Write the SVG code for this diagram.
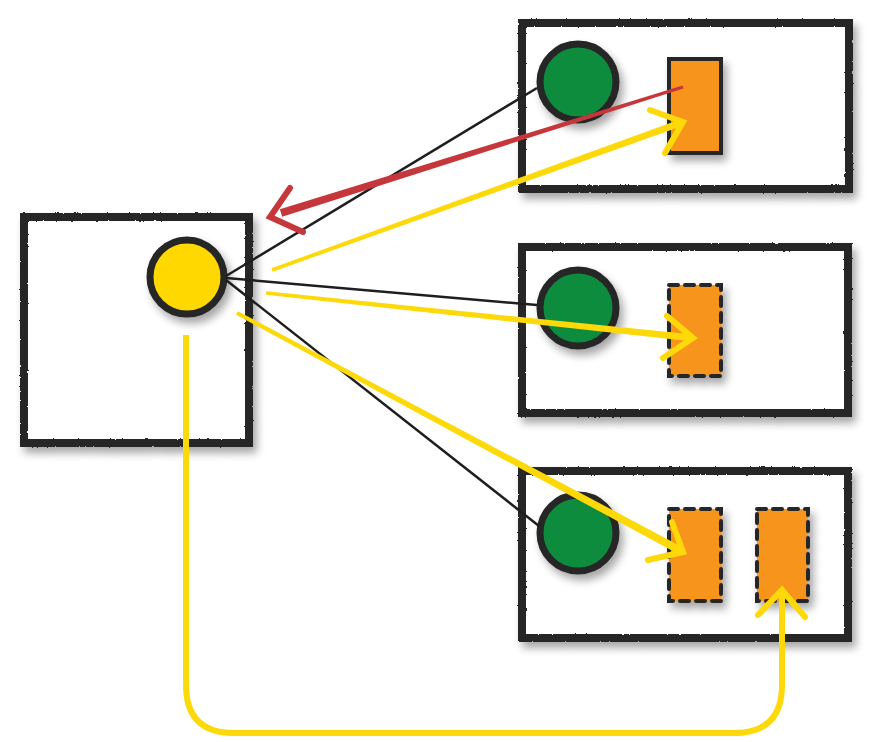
<svg xmlns="http://www.w3.org/2000/svg" width="889" height="742" viewBox="0 0 889 742">
<defs>
<filter id="rough" x="-5%" y="-5%" width="110%" height="110%">
<feTurbulence type="fractalNoise" baseFrequency="0.35" numOctaves="2" seed="3" result="n"/>
<feDisplacementMap in="SourceGraphic" in2="n" scale="2.2" xChannelSelector="R" yChannelSelector="G"/>
</filter>
<filter id="shadow" x="-20%" y="-20%" width="150%" height="150%">
<feGaussianBlur in="SourceAlpha" stdDeviation="4"/>
<feOffset dx="4" dy="6" result="o"/>
<feComponentTransfer><feFuncA type="linear" slope="0.35"/></feComponentTransfer>
<feMerge><feMergeNode/><feMergeNode in="SourceGraphic"/></feMerge>
</filter>
<style>
.box{fill:#ffffff;stroke:#262626;stroke-width:8;filter:url(#rough);}
.sun{fill:#FFD800;stroke:#262626;stroke-width:7;}
.planet{fill:#0B8C3C;stroke:#262626;stroke-width:7;}
.item{fill:#F7941D;stroke:#262626;stroke-width:4;}
.dashed{fill:#F7941D;stroke:#262626;stroke-width:4;stroke-dasharray:9 7;stroke-linecap:round;}
.thin{stroke:#1e1e1e;stroke-width:2.5;fill:none;}
.ylw{fill:#FDD90A;}
.ychev{fill:none;stroke:#FDD90A;stroke-width:6;stroke-linecap:round;stroke-linejoin:miter;}
.red{fill:#C6373C;}
.rchev{fill:none;stroke:#C6373C;stroke-width:6;stroke-linecap:round;stroke-linejoin:miter;}
.yline{fill:none;stroke:#FDD90A;stroke-width:6;}
</style>
</defs>
<rect width="889" height="742" fill="#ffffff"/>

<g id="source" filter="url(#shadow)">
<rect class="box" x="24" y="217" width="225" height="226"/>
</g>
<g id="target1" filter="url(#shadow)">
<rect class="box" x="522" y="23" width="327" height="166"/>
</g>
<g id="target2" filter="url(#shadow)">
<rect class="box" x="522" y="247" width="326" height="166"/>
</g>
<g id="target3" filter="url(#shadow)">
<rect class="box" x="522" y="471" width="326" height="167"/>
</g>

<g id="sun" filter="url(#shadow)">
<circle class="sun" cx="187" cy="277" r="37"/>
</g>
<g id="planet1" filter="url(#shadow)">
<circle class="planet" cx="578" cy="82" r="38"/>
</g>
<g id="planet2" filter="url(#shadow)">
<circle class="planet" cx="578" cy="308" r="38"/>
</g>
<g id="planet3" filter="url(#shadow)">
<circle class="planet" cx="578" cy="533" r="38"/>
</g>
<g id="item1" filter="url(#shadow)">
<rect class="item" x="669" y="59" width="52" height="94"/>
</g>
<g id="item2" filter="url(#shadow)">
<rect class="dashed" x="669" y="285" width="52" height="91"/>
</g>
<g id="item3a" filter="url(#shadow)">
<rect class="dashed" x="669" y="509" width="52" height="92"/>
</g>
<g id="item3b" filter="url(#shadow)">
<rect class="dashed" x="757" y="509" width="51" height="92"/>
</g>

<g id="connectors">
<line class="thin" x1="226" y1="276" x2="537" y2="88"/>
<line class="thin" x1="226" y1="278" x2="537" y2="305"/>
<line class="thin" x1="226" y1="280" x2="539" y2="526"/>

<polygon class="red" points="279.8,209.2 682.55,85.57 683.45,88.43 282.2,216.8"/>
<polyline class="rchev" points="290,188 270,217 303,232"/>

<polygon class="ylw" points="271.41,268.35 681.81,118.71 684.19,125.29 272.59,271.65"/>
<polyline class="ychev" points="650,110 683,122 665,153"/>

<polygon class="ylw" points="266.18,291.26 693.37,334.52 692.63,341.48 265.82,294.74"/>
<polyline class="ychev" points="667,316 693,338 663,358"/>

<polygon class="ylw" points="237.94,311.24 684.89,548.48 681.11,555.52 236.06,314.76"/>
<polyline class="ychev" points="672,522 683,552 648,560"/>

<path class="yline" d="M186,335 L186,685 Q186,733 234,733 L734,733 Q782,733 782,685 L782,594"/>
<polyline class="ychev" points="758,615 782,590 805,617"/>
</g>
</svg>
